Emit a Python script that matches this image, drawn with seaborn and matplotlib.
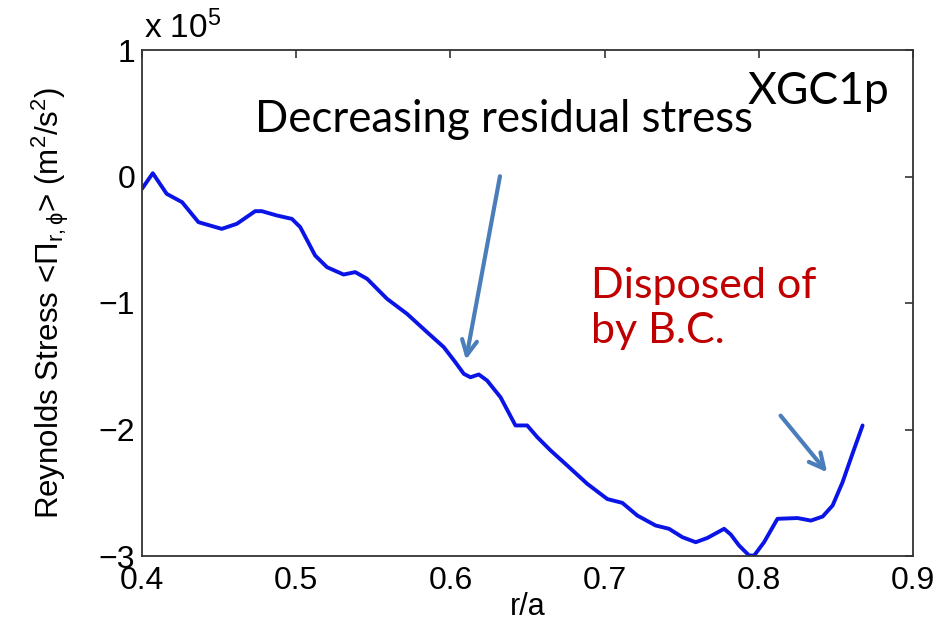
import matplotlib
matplotlib.use("Agg")
import matplotlib.pyplot as plt
import seaborn as sns
import pandas as pd

# ---- data (r/a, Reynolds stress in units of 1e5 m^2/s^2) ----
r_over_a = [0.400, 0.407, 0.416, 0.426, 0.4366, 0.4517, 0.4615, 0.4734, 0.4777,
            0.4874, 0.4972, 0.5026, 0.5123, 0.520, 0.5307, 0.5383, 0.546, 0.5589,
            0.5719, 0.5849, 0.5957, 0.6032, 0.6087, 0.613, 0.6184, 0.6238, 0.6325,
            0.6422, 0.6498, 0.6563, 0.665, 0.6758, 0.6888, 0.7018, 0.7115, 0.7212,
            0.7331, 0.7418, 0.7504, 0.7591, 0.7667, 0.7775, 0.7818, 0.7872, 0.7937,
            0.797, 0.8034, 0.8121, 0.8251, 0.8338, 0.8414, 0.8479, 0.8543, 0.8608,
            0.8673]
stress_1e5 = [-0.097, 0.026, -0.137, -0.203, -0.361, -0.414, -0.374, -0.274, -0.274,
              -0.308, -0.335, -0.40, -0.625, -0.717, -0.775, -0.756, -0.809, -0.967,
              -1.086, -1.231, -1.349, -1.468, -1.56, -1.587, -1.565, -1.613, -1.745,
              -1.968, -1.968, -2.06, -2.166, -2.285, -2.43, -2.55, -2.58, -2.68,
              -2.759, -2.785, -2.851, -2.891, -2.857, -2.785, -2.83, -2.917, -2.996,
              -2.996, -2.891, -2.706, -2.70, -2.72, -2.688, -2.60, -2.417, -2.19,
              -1.968]
x_ticks = [0.4, 0.5, 0.6, 0.7, 0.8, 0.9]
x_tick_labels = ["0.4", "0.5", "0.6", "0.7", "0.8", "0.9"]
y_ticks = [-3, -2, -1, 0, 1]
y_tick_labels = ["\u22123", "\u22122", "\u22121", "0", "1"]

df = pd.DataFrame({"r/a": r_over_a, "stress": stress_1e5})

sns.set_theme(style="white")
plt.rcParams["font.family"] = ["Liberation Sans", "DejaVu Sans"]
plt.rcParams["mathtext.fontset"] = "custom"
plt.rcParams["mathtext.rm"] = "Liberation Sans"
plt.rcParams["mathtext.it"] = "Liberation Sans:italic"
plt.rcParams["mathtext.sf"] = "Liberation Sans"
plt.rcParams["text.color"] = "black"
plt.rcParams["axes.labelcolor"] = "black"

fig = plt.figure(figsize=(9.43, 6.21), dpi=100)
ax = fig.add_axes([142 / 943, 1 - 556 / 621, (913 - 142) / 943, (556 - 50) / 621])

sns.lineplot(data=df, x="r/a", y="stress", ax=ax, color="#0a14e6", linewidth=2.8,
             sort=False, solid_joinstyle="round", solid_capstyle="round")

ax.set_xlim(0.4, 0.9)
ax.set_ylim(-3, 1)
ax.set_xticks(x_ticks)
ax.set_xticklabels(x_tick_labels)
ax.set_yticks(y_ticks)
ax.set_yticklabels(y_tick_labels)
ax.tick_params(direction="in", length=6, width=1.2, colors="#333333",
               labelsize=23, labelcolor="black", top=True, right=True,
               labeltop=False, labelright=False)
ax.tick_params(axis="x", pad=7)
ax.tick_params(axis="y", pad=5)
for s in ax.spines.values():
    s.set_color("#333333")
    s.set_linewidth(1.3)

ax.set_xlabel("r/a", fontsize=22)
ax.xaxis.set_label_coords(0.5, -0.072)
ax.set_ylabel(r"Reynolds Stress <$\Pi_{\mathrm{r,\phi}}$> (m$^2$/s$^2$)",
              fontsize=22.5)
ax.yaxis.set_label_coords(-0.092, 0.5)

# exponent marker
ax.text(0.002, 1.01, r"x 10$^5$", transform=ax.transAxes, fontsize=24,
        ha="left", va="bottom")

# annotations
ann_font = ["Lato", "DejaVu Sans"]
ax.text(0.4 + (255 - 142) / 1540, (176 - 132) / 126.5, "Decreasing residual stress",
        fontsize=31.5, family=ann_font, ha="left", va="baseline")
ax.text(0.4 + (747 - 142) / 1540, (176 - 103) / 126.5, "XGC1p",
        fontsize=32, family=ann_font, ha="left", va="baseline")
ax.text(0.4 + (590 - 142) / 1540, (176 - 342) / 126.5, "Disposed of\nby B.C.",
        fontsize=31, family=ann_font, color="#c00000", ha="left", va="baseline",
        linespacing=1.2)

arrow_kw = dict(arrowstyle="->,head_length=0.9,head_width=0.45",
                color="#4a7ebb", lw=3)
ax.annotate("", xy=(0.4 + (465 - 142) / 1540, (176 - 362) / 126.5),
            xytext=(0.4 + (500 - 142) / 1540, (176 - 173) / 126.5),
            arrowprops=arrow_kw)
ax.annotate("", xy=(0.4 + (828 - 142) / 1540, (176 - 474) / 126.5),
            xytext=(0.4 + (778 - 142) / 1540, (176 - 413) / 126.5),
            arrowprops=arrow_kw)

fig.savefig("out.png", dpi=100)
